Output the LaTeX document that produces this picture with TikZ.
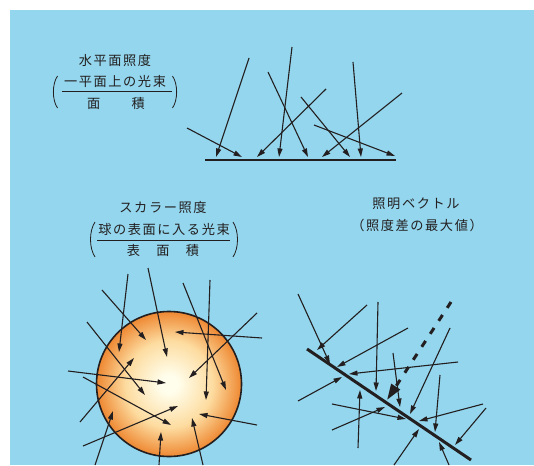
\documentclass[tikz,border=0pt]{standalone}
\usepackage{fontspec}
\setmainfont{Noto Sans CJK JP}[LetterSpace=12]
\usetikzlibrary{arrows.meta}

\definecolor{sky}{RGB}{147,214,237}
\definecolor{ink}{RGB}{35,31,32}
\definecolor{ballcore}{RGB}{255,254,236}
\definecolor{ballmid}{RGB}{253,220,160}
\definecolor{ballrim}{RGB}{238,136,50}

% warm glow of the lit sphere, bright in the middle and orange at the rim
% (the circle's bounding box takes the central 50bp square of the shading)
\pgfdeclareradialshading{ballglow}{\pgfpoint{0bp}{0bp}}{%
  color(0bp)=(ballcore); color(3bp)=(ballcore); color(15bp)=(ballmid);
  color(25bp)=(ballrim); color(50bp)=(ballrim)}

\tikzset{
  ray/.style={draw=ink, line width=1.1pt, -{Triangle[length=8.5pt,width=5pt]}},
  surface/.style={draw=ink, line width=2.6pt},
  label/.style={text=ink, font=\fontsize{13.2pt}{16pt}\selectfont, inner sep=0pt},
  fracbar/.style={draw=ink, line width=0.9pt},
  paren/.style={draw=ink, line width=0.8pt},
}

\begin{document}
\begin{tikzpicture}[x=1pt, y=-1pt]
\useasboundingbox (0,0) rectangle (534,465);
\fill[sky] (10,10) rectangle (534,465);

% ---------- horizontal illuminance ----------
\node[label] (t1)  at (115,61)  {水平面照度};
\node[label] (n1)  at (115,81)  {一平面上の光束};
\node[label] (d1)  at (116,104) {面　　積};
\draw[fracbar] (62,91) -- (172,91);
\draw[paren] (57.5,76) .. controls (52,84) and (52,100) .. (57.5,108);
\draw[paren] (172.5,76) .. controls (178,84) and (178,100) .. (172.5,108);

\draw[surface] (205,160) -- (396,160);
\foreach \xa/\ya/\xb/\yb in {249/58/216/157, 187/128/242/157, 292/47/279/157,
                   268/72/308/157, 326/89/257/157, 301/97/350/157,
                   353/62/361/157, 402/93/322/157, 314/125/395/156}
  \draw[ray] (\xa,\ya) -- (\xb,\yb);

% ---------- scalar illuminance ----------
\node[label] (t2) at (163,208) {スカラー照度};
\node[label] (n2) at (164,229) {球の表面に入る光束};
\node[label] (d2) at (163,251) {表　面　積};
\draw[fracbar] (97,240) -- (230,240);
\draw[paren] (95,222) .. controls (89,231) and (89,248) .. (95,257);
\draw[paren] (233,222) .. controls (239,231) and (239,248) .. (233,257);

\shade[shading=ballglow] (169,384) circle (72.5);
\draw[ink, line width=1.6pt] (169,384) circle (72.5);
\foreach \xa/\ya/\xb/\yb in {128/274/119/352, 148/268/167/357, 102/290/146/340,
                   87/322/145/395, 183/283/226/390, 210/280/206/400,
                   257/313/189/378, 262/338/175/332, 68/371/166/383,
                   83/377/171/425, 80/422/134/358, 83/446/178/406,
                   257/425/199/414, 95/465/113/411, 159/465/161/432,
                   203/465/192/418}
  \draw[ray] (\xa,\ya) -- (\xb,\yb);

% ---------- illumination vector ----------
\node[label] (t3) at (416,204) {照明ベクトル};
\node[label] (s3) at (417,225) {（照度差の最大値）};

\draw[surface, line width=3pt] (307,349) -- (471,460);
\foreach \xa/\ya/\xb/\yb in {298/294/330/364, 367/305/317/350, 378/302/376/391,
                   408/328/337/367, 458/362/349/374, 298/401/342/377,
                   393/353/400/407, 450/328/410/414, 332/404/406/419,
                   483/404/419/421, 358/448/360/390, 332/430/385/407,
                   440/375/435/432, 486/408/455/445, 394/465/419/429,
                   449/465/439/442}
  \draw[ray] (\xa,\ya) -- (\xb,\yb);
\draw[draw=ink, line width=3pt, dash pattern=on 7pt off 8.5pt,
      -{Triangle[length=16pt,width=10pt]}] (451,302) -- (387,400);
\end{tikzpicture}
\end{document}
